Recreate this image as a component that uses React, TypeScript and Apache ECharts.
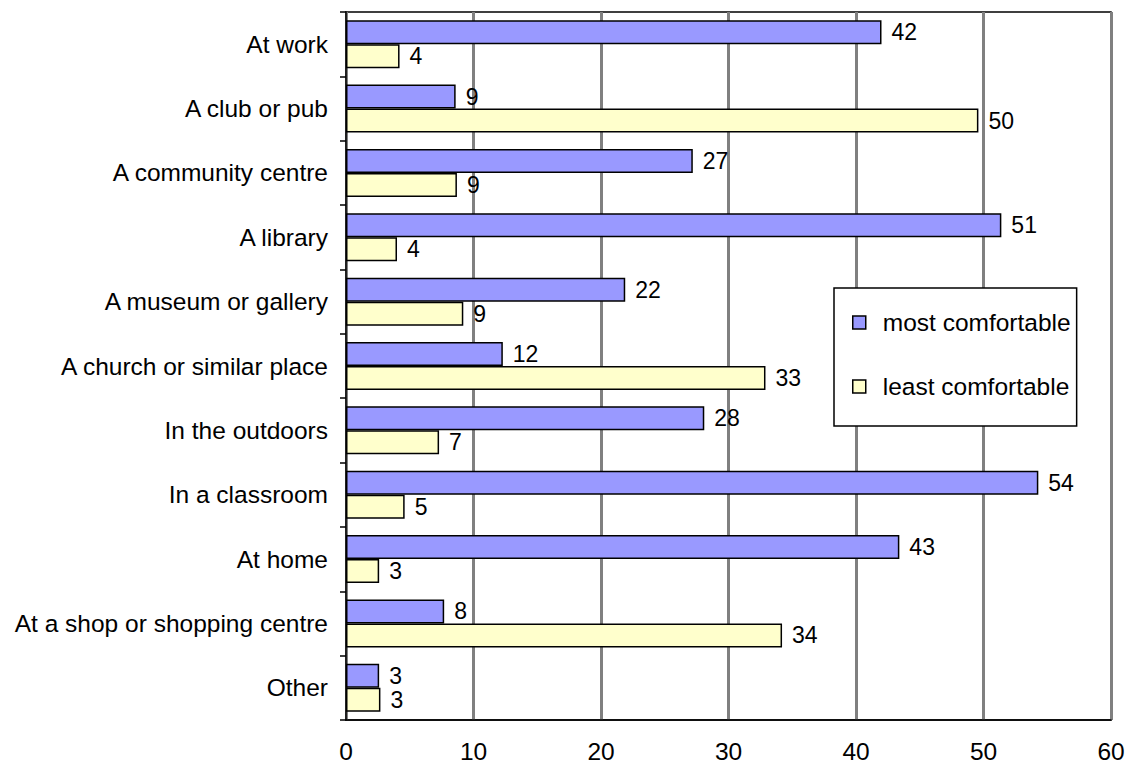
import React, { useEffect, useRef } from "react";
import * as echarts from "echarts";

const categories = [
  "At work",
  "A club or pub",
  "A community centre",
  "A library",
  "A museum or gallery",
  "A church or similar place",
  "In the outdoors",
  "In a classroom",
  "At home",
  "At a shop or shopping centre",
  "Other",
];

const mostComfortable = [42.0, 8.6, 27.2, 51.4, 21.9, 12.3, 28.1, 54.3, 43.4, 7.7, 2.6];
const leastComfortable = [4.2, 49.6, 8.7, 4.0, 9.2, 32.9, 7.3, 4.6, 2.6, 34.2, 2.7];

const seriesNames = ["most comfortable", "least comfortable"];
const xTicks = { min: 0, max: 60, interval: 10 };

const FONT = "'Liberation Sans', Arial, sans-serif";
const FS = 24.5;

export default function App() {
  const ref = useRef<HTMLDivElement>(null);

  useEffect(() => {
    if (!ref.current) return;
    const chart = echarts.init(ref.current, undefined, { renderer: "svg" });
    const labelCfg = {
      show: true,
      position: "right",
      distance: 10,
      color: "#000",
      fontSize: 23,
      lineHeight: 23,
      fontFamily: FONT,
      formatter: (p: any) => String(Math.round(p.value)),
    };
    chart.setOption({
      animation: false,
      backgroundColor: "#fff",
      textStyle: { fontFamily: FONT },
      grid: {
        left: 346,
        right: 17,
        top: 12,
        bottom: 40,
        show: true,
        borderColor: "#000",
        borderWidth: 1.5,
        backgroundColor: "transparent",
      },
      legend: {
        orient: "vertical",
        left: 834,
        top: 288,
        padding: [22, 6, 27, 18],
        itemGap: 39,
        itemWidth: 13,
        itemHeight: 13,
        icon: "rect",
        borderColor: "#000",
        borderWidth: 1.5,
        backgroundColor: "#fff",
        itemStyle: { borderColor: "#000", borderWidth: 1.5 },
        textStyle: {
          fontSize: FS,
          color: "#000",
          fontFamily: FONT,
          lineHeight: 24,
          padding: [0, 0, 0, 12],
        },
        data: seriesNames,
      },
      xAxis: {
        type: "value",
        min: xTicks.min,
        max: xTicks.max,
        interval: xTicks.interval,
        axisLine: { show: true, lineStyle: { color: "#000", width: 1.5 } },
        axisTick: { show: false },
        axisLabel: { fontSize: FS, color: "#000", margin: 19, fontFamily: FONT },
        splitLine: { show: true, lineStyle: { color: "#808080", width: 3 } },
      },
      yAxis: {
        type: "category",
        inverse: true,
        data: categories,
        axisLine: { show: true, lineStyle: { color: "#000", width: 1.5 } },
        axisTick: { show: true, length: 6, lineStyle: { color: "#000", width: 1.5 } },
        axisLabel: { fontSize: FS, color: "#000", margin: 18, fontFamily: FONT },
        splitLine: { show: false },
      },
      series: [
        {
          name: seriesNames[0],
          type: "bar",
          data: mostComfortable,
          barWidth: 24,
          barGap: "0%",
          itemStyle: { color: "#9999FF", borderColor: "#000", borderWidth: 1.5 },
          label: labelCfg,
        },
        {
          name: seriesNames[1],
          type: "bar",
          data: leastComfortable,
          barWidth: 24,
          barGap: "0%",
          itemStyle: { color: "#FFFFCC", borderColor: "#000", borderWidth: 1.5 },
          label: labelCfg,
        },
      ],
    });
    return () => chart.dispose();
  }, []);

  return (
    <div
      ref={ref}
      style={{ position: "absolute", left: 0, top: 0, width: 1128, height: 764 }}
    />
  );
}
